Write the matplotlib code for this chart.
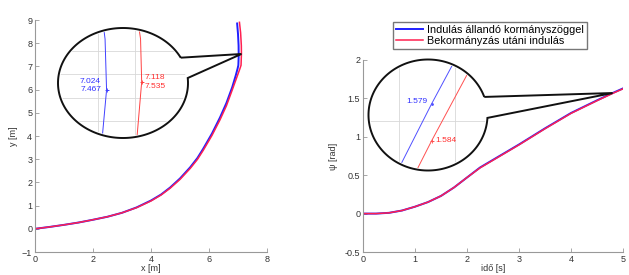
import numpy as np
import matplotlib
matplotlib.use("Agg")
import matplotlib.pyplot as plt
from matplotlib.path import Path
from matplotlib.patches import PathPatch, Ellipse

plt.rcParams['font.family'] = ['Liberation Sans', 'DejaVu Sans']

# path y(x), blue = constant steering, red = steer then start
path_x_blue = [0, 0.5, 1, 1.5, 2, 2.5, 3, 3.5, 4, 4.35, 4.66, 5.0, 5.35, 5.6, 5.8, 6.1,
               6.38, 6.6, 6.8, 6.92, 6.985, 7.012, 7.024, 7.02, 7.0, 6.97]
path_y_blue = [0, 0.08, 0.17, 0.27, 0.39, 0.52, 0.69, 0.92, 1.22, 1.48, 1.78, 2.17, 2.65,
               3.05, 3.45, 4.1, 4.8, 5.42, 6.1, 6.6, 6.9, 7.05, 7.467, 7.9, 8.4, 8.85]
path_x_red = [0, 0.5, 1, 1.5, 2, 2.5, 3, 3.5, 4, 4.35, 4.66, 5.0, 5.35, 5.6, 5.8, 6.1,
              6.38, 6.6, 6.8, 6.95, 7.06, 7.105, 7.118, 7.115, 7.09, 7.05]
path_y_red = [0, 0.08, 0.17, 0.27, 0.39, 0.52, 0.69, 0.91, 1.2, 1.46, 1.75, 2.13, 2.6,
              2.99, 3.38, 4.02, 4.7, 5.3, 5.98, 6.5, 6.88, 7.05, 7.535, 7.9, 8.45, 8.9]

# heading psi(t)
t_blue = [0, 0.25, 0.5, 0.75, 1.0, 1.25, 1.5, 1.75, 2.0, 2.25, 2.5, 2.75, 3.0, 3.5, 4.0, 4.5, 4.8, 5.0]
psi_blue = [0, 0, 0.01, 0.04, 0.09, 0.15, 0.23, 0.34, 0.47, 0.6, 0.7, 0.8, 0.9, 1.11, 1.31, 1.475, 1.57, 1.63]
t_red = [0, 0.25, 0.5, 0.75, 1.0, 1.25, 1.5, 1.75, 2.0, 2.25, 2.5, 2.75, 3.0, 3.5, 4.0, 4.5, 4.8, 5.0]
psi_red = [0, 0, 0.01, 0.04, 0.09, 0.15, 0.23, 0.34, 0.47, 0.595, 0.695, 0.795, 0.895, 1.105, 1.305, 1.47, 1.565, 1.625]

labels = ['Indulás állandó kormányszöggel', 'Bekormányzás utáni indulás']
tip_left = 22   # index of the data tips
tip_right = 16
tip_right_text = ['1.579', '1.584']

W, H = 629, 275
fig = plt.figure(figsize=(W / 100, H / 100), dpi=100)
fig.patch.set_facecolor('white')

def px_box(x0, y0, x1, y1):
    return [x0 / W, 1 - y1 / H, (x1 - x0) / W, (y1 - y0) / H]

def style(ax):
    for s in ['top', 'right']:
        ax.spines[s].set_visible(False)
    for s in ['left', 'bottom']:
        ax.spines[s].set_color('#999999')
        ax.spines[s].set_linewidth(0.8)
    ax.tick_params(direction='in', length=3, width=0.6, color='#999999',
                   labelsize=6.5, labelcolor='#333333', pad=2)

ax1 = fig.add_axes(px_box(35, 20, 267, 252))
ax1.plot(path_x_blue, path_y_blue, color='#2020ff', lw=1.4)
ax1.plot(path_x_red, path_y_red, color='#ff2050', lw=1.1)
ax1.set_xlim(0, 8)
ax1.set_ylim(-1, 9)
ax1.set_xticks(range(0, 9, 2))
ax1.set_yticks(range(-1, 10))
ax1.set_xlabel('x [m]', fontsize=6.5, color='#333333', labelpad=0)
ax1.set_ylabel('y [m]', fontsize=6.5, color='#333333', labelpad=3)
style(ax1)

ax2 = fig.add_axes(px_box(363, 60, 623, 252))
l1, = ax2.plot(t_blue, psi_blue, color='#2020ff', lw=1.4)
l2, = ax2.plot(t_red, psi_red, color='#ff2050', lw=1.1)
ax2.set_xlim(0, 5)
ax2.set_ylim(-0.5, 2)
ax2.set_xticks(range(0, 6))
ax2.set_yticks([-0.5, 0, 0.5, 1, 1.5, 2])
ax2.set_yticklabels(['-0.5', '0', '0.5', '1', '1.5', '2'])
ax2.set_xlabel('idő [s]', fontsize=6.5, color='#333333', labelpad=0)
ax2.set_ylabel('ψ [rad]', fontsize=6.5, color='#333333', labelpad=5)
style(ax2)

fig.legend([l1, l2], labels, loc='upper left', bbox_to_anchor=(393 / W, 1 - 22 / H),
           fontsize=7.8, frameon=True, fancybox=False, edgecolor='#555555',
           borderpad=0.25, labelspacing=0.1, handlelength=2.5, handletextpad=0.4,
           borderaxespad=0)


def bubble(cx, cy, a, b, ang_up, ang_low, tip_ax, tip_xy):
    # tip in pixel coords (y down)
    dx, dy = tip_ax.transData.transform(tip_xy)
    tx, ty = dx, H - dy
    angs = np.radians(np.linspace(ang_up, 360 + ang_low, 200))
    xs = cx + a * np.cos(angs)
    ys = cy - b * np.sin(angs)
    verts = list(zip(xs, ys)) + [(tx, ty), (xs[0], ys[0])]
    verts = [(x / W, 1 - y / H) for x, y in verts]
    p = PathPatch(Path(verts, closed=False), transform=fig.transFigure,
                  facecolor='white', edgecolor='#111111', lw=1.4, zorder=5)
    fig.add_artist(p)
    ins = fig.add_axes(px_box(cx - a, cy - b, cx + a, cy + b), zorder=6)
    ins.patch.set_alpha(0)
    for s in ins.spines.values():
        s.set_visible(False)
    ins.tick_params(length=0, labelbottom=False, labelleft=False)
    clip = Ellipse((0.5, 0.5), 0.97, 0.97, transform=ins.transAxes)
    return ins, clip


# left bubble
ins1, clip1 = bubble(123, 83, 65, 55, 27.4, 5.2, ax1,
                     (path_x_red[tip_left], path_y_red[tip_left]))
ins1.set_xlim(6.894, 7.242)
ins1.set_ylim(7.059, 7.994)
ins1.set_xticks([7.0, 7.1])
ins1.set_yticks([7.2, 7.4, 7.6, 7.8])
ins1.grid(True, color='#d8d8d8', lw=0.6)
lb, = ins1.plot(path_x_blue, path_y_blue, color='#4040ff', lw=0.7)
lr, = ins1.plot(path_x_red, path_y_red, color='#ff4040', lw=0.7)
bx, by = path_x_blue[tip_left], path_y_blue[tip_left]
rx, ry = path_x_red[tip_left], path_y_red[tip_left]
mb, = ins1.plot([bx], [by], '+', color='#4040ff', ms=3, mew=0.6)
mr, = ins1.plot([rx], [ry], '+', color='#ff4040', ms=3, mew=0.6)
ins1.annotate(f'{bx:.3f}\n{by:.3f}', (bx, by), xytext=(-4, 3), textcoords='offset points',
              ha='right', va='center', fontsize=6, color='#3030ff', linespacing=1.25)
ins1.annotate(f'{rx:.3f}\n{ry:.3f}', (rx, ry), xytext=(2, 0), textcoords='offset points',
              ha='left', va='center', fontsize=6, color='#ff3030', linespacing=1.25)
for art in [lb, lr, mb, mr] + ins1.get_xgridlines() + ins1.get_ygridlines():
    art.set_clip_path(clip1)

# right bubble
ins2, clip2 = bubble(428, 115, 59.5, 55.5, 19, -3, ax2,
                     (t_blue[tip_right], psi_blue[tip_right]))
ins2.set_xlim(4.747, 4.847)
ins2.set_ylim(1.561, 1.576)
ins2.set_xticks([4.773, 4.82])
ins2.set_yticks([1.5677])
ins2.grid(True, color='#d8d8d8', lw=0.6)
lb2, = ins2.plot(t_blue, psi_blue, color='#5050ff', lw=0.7)
lr2, = ins2.plot(t_red, psi_red, color='#ff5050', lw=0.7)
mb2, = ins2.plot([t_blue[tip_right]], [psi_blue[tip_right]], '.', color='#5050ff', ms=2)
mr2, = ins2.plot([t_red[tip_right]], [psi_red[tip_right]], '+', color='#ff5050', ms=3, mew=0.6)
ins2.annotate(tip_right_text[0], (t_blue[tip_right], psi_blue[tip_right]), xytext=(-3, 2),
              textcoords='offset points', ha='right', va='center', fontsize=6, color='#3030ff')
ins2.annotate(tip_right_text[1], (t_red[tip_right], psi_red[tip_right]), xytext=(3, 0),
              textcoords='offset points', ha='left', va='center', fontsize=6, color='#ff3030')
for art in [lb2, lr2, mb2, mr2] + ins2.get_xgridlines() + ins2.get_ygridlines():
    art.set_clip_path(clip2)

fig.savefig('out.png', dpi=100)
